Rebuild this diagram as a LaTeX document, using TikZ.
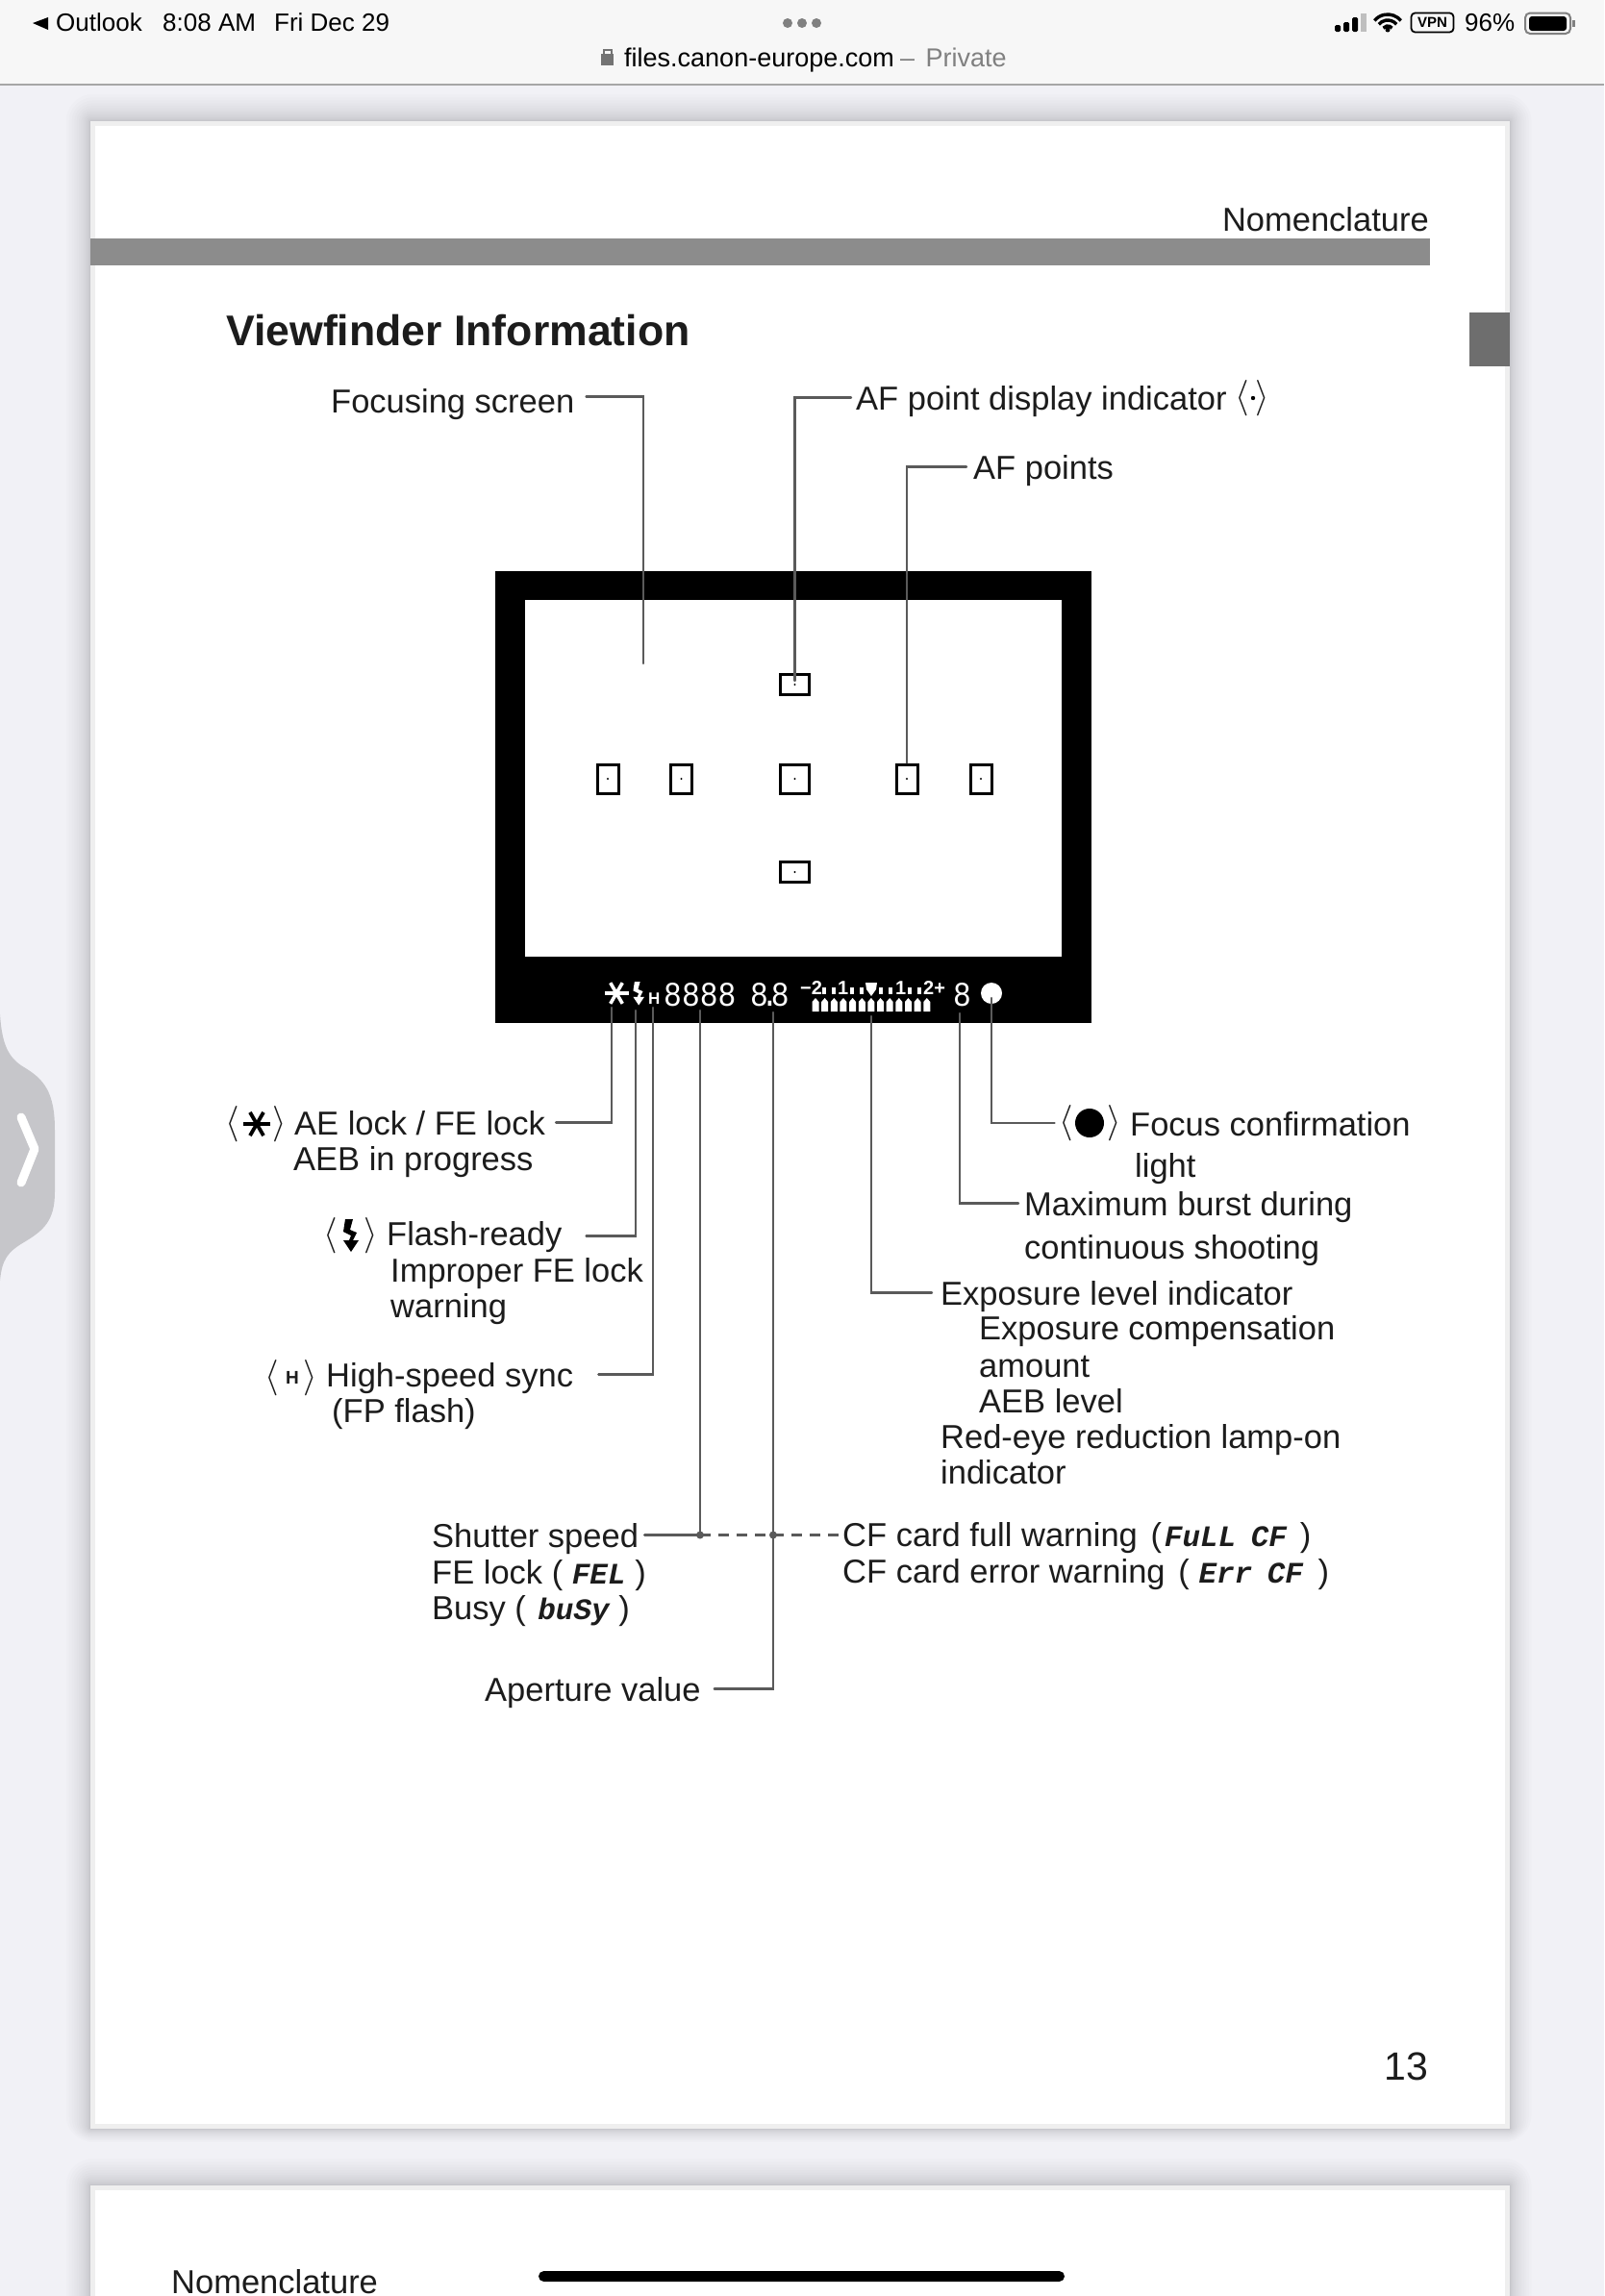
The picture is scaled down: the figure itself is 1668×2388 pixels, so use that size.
\documentclass[tikz,border=0pt]{standalone}
\usepackage{fontspec}
\setmainfont{Liberation Sans}
\newfontfamily\lcdfont{Liberation Mono}
\newfontfamily\panelfont{Liberation Mono}[FakeStretch=0.87]
\definecolor{inktext}{HTML}{1C1C1C}
\definecolor{leadgray}{HTML}{5A5A5A}
\definecolor{deskgray}{HTML}{F1F1F6}
\definecolor{edgegray}{HTML}{EFEFEF}
\definecolor{barfill}{HTML}{8C8C8C}
\definecolor{tabfill}{HTML}{6E6E6E}
\definecolor{handlegray}{HTML}{C6C6CA}
\newcommand{\lcd}[1]{{\fontsize{31}{31}\lcdfont\bfseries\itshape #1}}
\newcommand{\openbrk}{{\fontsize{24}{24}\selectfont\scalebox{1.5}{$\langle$}}}
\newcommand{\closebrk}{{\fontsize{24}{24}\selectfont\scalebox{1.5}{$\rangle$}}}
\newcommand{\flashbolt}[3]{\fill[#1,shift={(#2)},scale=#3] (4,0) -- (12,0) -- (9,11) -- (16,14) -- (12,22) -- (18,22) -- (10,34) -- (2,22) -- (8,22) -- (10,17) -- (2,13) -- cycle;}
\newcommand{\aesign}[4]{\foreach \ang in {0,60,120} \draw[#1,line width=#4] ([shift={(\ang:#3pt)}]#2) -- ([shift={(\ang+180:#3pt)}]#2);}
\begin{document}
\begin{tikzpicture}[x=1pt,y=-1pt,font=\fontsize{34.5}{38}\selectfont,text=inktext]
    \tikzstyle{lbl}=[inner sep=0pt, anchor=base west, text height=25pt, text depth=0pt]
    \tikzstyle{leader}=[draw=leadgray, line width=2.4pt, line cap=round]
    \tikzstyle{brk}=[inner sep=0pt, anchor=center]
    \tikzstyle{afpoint}=[draw=black, line width=3pt, fill=white, inner sep=0pt, minimum width=#1, minimum height=30pt]
    \tikzstyle{statustext}=[inner sep=0pt, anchor=base west, font=\fontsize{26}{30}\selectfont, text=black]
    \tikzstyle{paneltext}=[inner sep=0pt, anchor=base west, text=white]
    \tikzstyle{scalenum}=[paneltext, font=\fontsize{20}{20}\selectfont\bfseries]

    \useasboundingbox (0,0) rectangle (1668,2388);
    \fill[deskgray] (0,0) rectangle (1668,2388);

    \foreach \d in {1,...,16} {
        \pgfmathsetmacro{\off}{\d*\d*.11}
        \fill[black, opacity=.01, rounded corners=\off*1pt] (94-\off*.9,126-\off) rectangle (1570+\off*.8,2214+\off*.5);
        \fill[black, opacity=.01, rounded corners=\off*1pt] (94-\off*.9,2273-\off) rectangle (1570+\off*.8,2430);
    }
    \fill[white!97!black] (0,0) rectangle (1668,88);
    \draw[gray!70, line width=2pt] (0,88) -- (1668,88);

    \node[statustext] (outlook) at (58,32) {Outlook};
    \node[statustext] (clock) at (169,32) {8:08 AM};
    \node[statustext] (date) at (285,32) {Fri Dec 29};
    \fill[black] (34,24) -- (50,18) -- (50,31) -- cycle;
    \foreach \x in {819,834,849} \fill[gray] (\x,24) circle (5);
    \fill[gray!90!black] (625,56) rectangle (638,68);
    \draw[gray!90!black, line width=2pt] (627.5,56) -- (627.5,52) -- (635.5,52) -- (635.5,56);
    \node[statustext, font=\fontsize{27}{30}\selectfont] (site) at (649,69) {files.canon-europe.com};
    \node[statustext, font=\fontsize{27}{30}\selectfont, text=gray] (private) at (936,69) {--\kern.42em Private};

    \foreach \x/\h in {1388/7,1397/10,1406/15} \fill[black, rounded corners=1.5pt] (\x,33) rectangle (\x+6,33-\h);
    \fill[gray!50] (1415,33) rectangle (1421,14);
    \foreach \r in {6,12,18} \draw[black, line width=3.4pt] ([shift={(40:\r pt)}]1443,33) arc (40:140:\r pt);
    \fill[black] (1443,31) circle (2.5);
    \node[draw=black, line width=1.8pt, rounded corners=4pt, inner sep=0pt, minimum width=44pt, minimum height=20pt, font=\fontsize{15}{15}\selectfont\bfseries, text=black] (vpn) at (1489.5,23.5) {VPN};
    \node[statustext] (charge) at (1523,32) {96\%};
    \draw[gray, line width=2pt, rounded corners=5pt] (1586,13.5) rectangle (1633,35);
    \fill[black, rounded corners=3pt] (1590,17) rectangle (1629,32);
    \fill[gray] (1635,21) rectangle (1638,28);

    \fill[handlegray] (0,1055) .. controls (2,1085) and (8,1100) .. (25,1110) .. controls (45,1122) and (57,1135) .. (57,1175) -- (57,1240) .. controls (57,1270) and (45,1280) .. (25,1292) .. controls (8,1302) and (2,1310) .. (0,1332) -- cycle;
    \draw[white, line width=9pt, line cap=round, line join=round] (22,1162) -- (36,1195) -- (22,1230);

    \fill[edgegray] (94,126) rectangle (1570,2214);
    \fill[white] (99,131) rectangle (1565,2209);
    \fill[edgegray] (94,2273) rectangle (1570,2388);
    \fill[white] (99,2278) rectangle (1565,2388);

    \node[lbl, anchor=base east] (headright) at (1486,240) {Nomenclature};
    \fill[barfill] (94,248) rectangle (1487,276);
    \fill[tabfill] (1528,325) rectangle (1570,381);
    \node[lbl, font=\fontsize{44.6}{50}\selectfont\bfseries] (vftitle) at (235,359) {Viewfinder Information};

    \fill[black] (514.5,594) rectangle (1135,1064);
    \fill[white] (546,624) rectangle (1104,995);

    \foreach \name/\x/\y/\w/\h in {aftop/826.5/712/30/21, afleftout/632/810/22/30, afleftin/708.5/810/22/30, afmid/826.5/810/30/30, afrightin/943/810/22/30, afrightout/1020/810/22/30, afbottom/826.5/907/30/21} {
        \node[afpoint=\w pt, minimum height=\h pt] (\name) at (\x,\y) {};
        \fill[black] (\name.center) circle (1.2);
    }

    \aesign{white}{641,1033}{12.5}{3.6pt}
    \flashbolt{white}{657,1021}{.72}
    \node[paneltext, font=\fontsize{17}{17}\selectfont\bfseries] (panelh) at (674,1044) {H};
    \node[paneltext, font=\fontsize{36}{36}\panelfont] (paneltime) at (690,1046) {8888};
    \node[paneltext, font=\fontsize{36}{36}\panelfont] (panelav) at (780,1046) {8\kern-.22em.\kern-.22em8};
    \node[scalenum] (scaleminus) at (832,1034) {−2};
    \node[scalenum] (scaleoneleft) at (871,1034) {1};
    \node[scalenum] (scaleoneright) at (931,1034) {1};
    \node[scalenum] (scaleplus) at (960,1034) {2+};
    \foreach \x in {857,867,886,896,916,926,946,956} \fill[white] (\x-2,1027) rectangle (\x+2,1034);
    \fill[white] (900,1022) -- (912,1022) -- (911,1029) -- (906,1036) -- (901,1029) -- cycle;
    \foreach \i in {0,...,12} \fill[white] (848-3.5+\i*9.65,1052) -- (848-3.5+\i*9.65,1042) -- (848+\i*9.65,1038) -- (848+3.5+\i*9.65,1042) -- (848+3.5+\i*9.65,1052) -- cycle;
    \node[paneltext, font=\fontsize{36}{36}\panelfont] (panelburst) at (991,1046) {8};
    \fill[white] (1031,1033) circle (11);

    \coordinate (focusend) at (669,690);
    \coordinate (pasterisk) at (636,1048);
    \coordinate (pflash) at (661,1051);
    \coordinate (ph) at (679,1048);
    \coordinate (ptime) at (728,1051);
    \coordinate (pav) at (804,1053);
    \coordinate (pscale) at (906,1057);
    \coordinate (pburst) at (998,1054);
    \coordinate (plight) at (1031,1038);

    \node[lbl] (focusscreen) at (344,429) {Focusing screen};
    \node[lbl] (afdisplay) at (890,426) {AF point display indicator};
    \node[brk] (afopen) at (1292,414) {\openbrk};
    \node[brk] (afclose) at (1313,414) {\closebrk};
    \fill[black] (1303,414) circle (2.2);
    \node[lbl] (afpoints) at (1012,498) {AF points};

    \node[brk] (aeopen) at (242,1169) {\openbrk};
    \node[brk] (aeclose) at (291,1169) {\closebrk};
    \aesign{black}{267,1169}{14}{3.8pt}
    \node[lbl] (aelock) at (306,1180) {AE lock / FE lock};
    \node[lbl] (aeb) at (305,1217) {AEB in progress};

    \node[brk] (flopen) at (344,1285) {\openbrk};
    \node[brk] (flclose) at (386,1285) {\closebrk};
    \flashbolt{black}{355,1268}{1}
    \node[lbl] (flashready) at (402,1295) {Flash-ready};
    \node[lbl] (improper) at (406,1333) {Improper FE lock};
    \node[lbl] (fewarn) at (406,1370) {warning};

    \node[brk] (hopen) at (283,1433) {\openbrk};
    \node[brk] (hclose) at (323,1433) {\closebrk};
    \node[inner sep=0pt, font=\fontsize{19}{19}\selectfont\bfseries] (hsign) at (304,1433) {H};
    \node[lbl] (highspeed) at (339,1442) {High-speed sync};
    \node[lbl] (fpflash) at (345,1479) {(FP flash)};

    \node[lbl] (shutter) at (449,1609) {Shutter speed};
    \node[lbl] (felock) at (449,1647) {FE lock ( \lcd{FEL} )};
    \node[lbl] (busy) at (449,1684) {Busy (\kern.08em\ \lcd{buSy} )};
    \node[lbl] (aperture) at (504,1769) {Aperture value};

    \node[lbl] (cffull) at (876,1608) {CF card full warning \kern.12em(\kern.08em\lcd{FuLL\kern-.1em\ CF}\kern.4em)};
    \node[lbl] (cferror) at (876,1646) {CF card error warning \kern.12em( \lcd{Err\kern-.1em\ CF}\kern.45em)};

    \node[brk] (lightopen) at (1109,1168) {\openbrk};
    \node[brk] (lightclose) at (1159,1168) {\closebrk};
    \fill[black] (1133,1168) circle (15);
    \node[lbl] (focuslight) at (1175,1181) {Focus confirmation};
    \node[lbl] (lighttext) at (1180,1224) {light};
    \node[lbl] (maxburst) at (1065,1264) {Maximum burst during};
    \node[lbl] (contshoot) at (1065,1309) {continuous shooting};
    \node[lbl] (explevel) at (978,1357) {Exposure level indicator};
    \node[lbl] (expcomp) at (1018,1393) {Exposure compensation};
    \node[lbl] (expamount) at (1018,1432) {amount};
    \node[lbl] (aeblevel) at (1018,1469) {AEB level};
    \node[lbl] (redeye) at (978,1506) {Red-eye reduction lamp-on};
    \node[lbl] (redindic) at (978,1543) {indicator};

    \node[lbl, anchor=base east, font=\fontsize{41}{44}\selectfont] (pagenum) at (1485,2163) {13};
    \node[lbl] (nextpage) at (178,2385) {Nomenclature};
    \fill[black, rounded corners=5.5pt] (560,2362) rectangle (1107,2373);

    \draw[leader] ([xshift=12pt,yshift=4pt]focusscreen.east) -| (focusend);
    \draw[leader] ([xshift=-5pt]afdisplay.west) -| ([yshift=4pt]aftop.center);
    \draw[leader] ([xshift=-7pt]afpoints.west) -| (afrightin.north);
    \draw[leader] (pasterisk) |- ([xshift=11pt]aelock.east);
    \draw[leader] (pflash) |- ([xshift=25pt,yshift=-3pt]flashready.east);
    \draw[leader] (ph) |- ([xshift=26pt]highspeed.east);
    \coordinate (timejoin) at (ptime |- shutter.east);
    \coordinate (avjoin) at (pav |- shutter.east);
    \draw[leader] ([xshift=6pt]shutter.east) -- (timejoin) -- (ptime);
    \draw[leader] (pav) |- ([xshift=14pt]aperture.east);
    \draw[leader, line cap=butt, dash pattern=on 11pt off 8pt] (timejoin) -- (avjoin) -- (cffull.west |- shutter.east);
    \fill[leadgray] (timejoin) circle (4);
    \fill[leadgray] (avjoin) circle (4);
    \draw[leader] (pscale) |- ([xshift=-9pt]explevel.west);
    \draw[leader] (pburst) |- ([xshift=-6pt]maxburst.west);
    \draw[leader] (plight) |- ([xshift=-5pt]lightopen.west);
\end{tikzpicture}
\end{document}
